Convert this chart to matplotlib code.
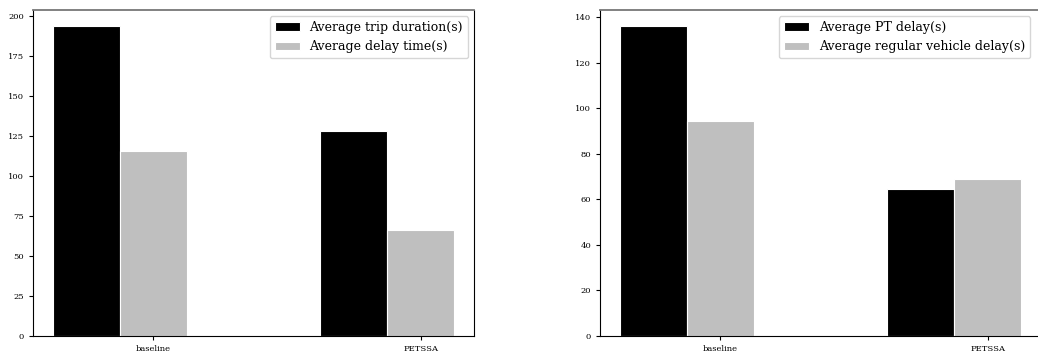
import numpy as np
import matplotlib
matplotlib.use("Agg")
import matplotlib.pyplot as plt

plt.rcParams['font.family'] = 'DejaVu Serif'

categories = ["baseline", "PETSSA"]
trip_duration = [194.0, 128.0]
delay_time = [115.5, 66.5]
pt_delay = [136.3, 64.5]
regular_delay = [94.5, 68.8]

labels_left = ["Average trip duration(s)", "Average delay time(s)"]
labels_right = ["Average PT delay(s)", "Average regular vehicle delay(s)"]

W, H = 1038, 358
fig = plt.figure(figsize=(W / 100, H / 100), dpi=100)
ax1 = fig.add_axes([33 / W, 22 / H, 441 / W, 326 / H])
ax2 = fig.add_axes([600 / W, 22 / H, 441 / W, 326 / H])

x = np.arange(len(categories))
width = 0.25

def draw(ax, a, b, labs, legend_right):
    ax.bar(x - width, a, width, color='black', edgecolor='white', linewidth=0.8, label=labs[0])
    ax.bar(x, b, width, color='#bfbfbf', edgecolor='white', linewidth=0.8, label=labs[1])
    ax.set_xticks(x)
    ax.set_xticklabels(categories)
    ax.tick_params(axis='both', labelsize=6, length=3, width=0.8)
    for s in ax.spines.values():
        s.set_linewidth(0.8)
    ax.spines['top'].set_color('#777777')
    ax.spines['top'].set_linewidth(1.3)
    ax.legend(loc='upper right', fontsize=9, labelspacing=0.5,
              bbox_to_anchor=(legend_right / W, 1 - 16 / H),
              bbox_transform=fig.transFigure, borderaxespad=0)

draw(ax1, trip_duration, delay_time, labels_left, 468)
draw(ax2, pt_delay, regular_delay, labels_right, 1030)

fig.savefig("out.png", dpi=100)
